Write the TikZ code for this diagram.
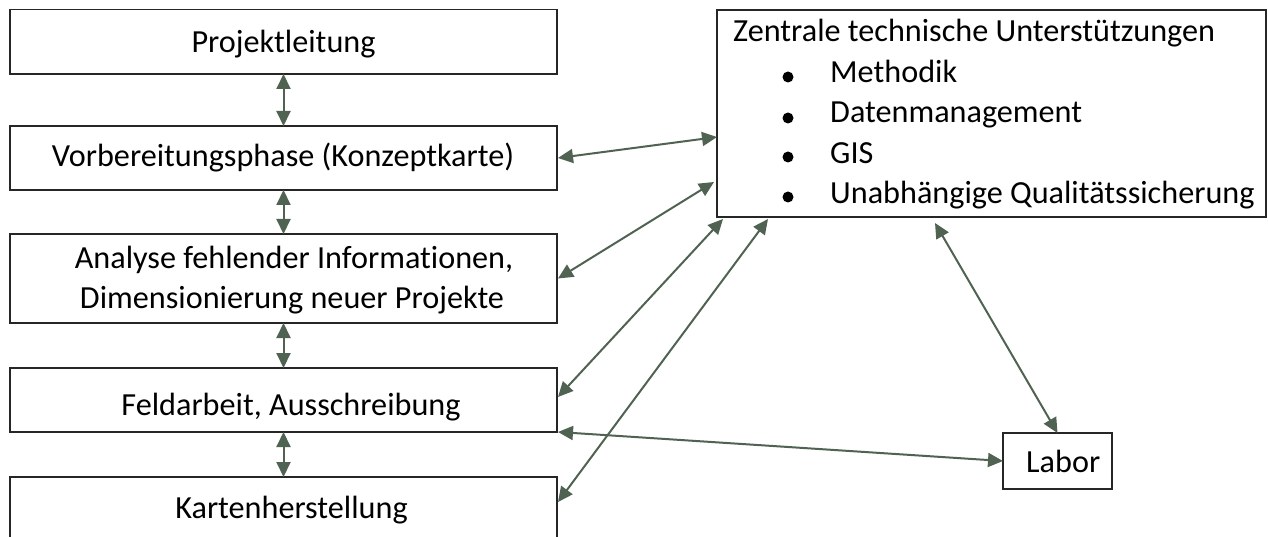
\documentclass[tikz,border=0pt]{standalone}
\usepackage{fontspec}
\setmainfont[Ligatures=NoCommon]{Carlito}
\usetikzlibrary{arrows.meta,calc}
\definecolor{arr}{RGB}{80,99,82}
\begin{document}
\begin{tikzpicture}[x=1pt,y=-1pt,
  box/.style={draw=black!85,line width=1.3pt,inner sep=0pt,outer sep=0pt,anchor=north west},
  lbox/.style={box,minimum width=547pt},
  txt/.style={font=\fontsize{32.2}{38}\selectfont,inner sep=0pt,anchor=base},
  ltxt/.style={txt,anchor=base west},
  con/.style={draw=arr,line width=2pt,{Triangle[length=15pt,width=14pt]}-{Triangle[length=15pt,width=14pt]}},
  bul/.style={fill=black}
]
\clip (0,0) rectangle (1268,537);
\useasboundingbox (0,0) rectangle (1268,537);

% left column boxes
\node[lbox,minimum height=64.5pt] (pl) at (10,9.5) {};
\node[lbox,minimum height=64pt] (vb) at (10,126) {};
\node[lbox,minimum height=89pt] (an) at (10,234) {};
\node[lbox,minimum height=64pt] (fa) at (10,368) {};
\node[lbox,minimum height=80pt] (kh) at (10,477) {};

\node[txt] (plt) at (283.5,53) {Projektleitung};
\node[txt] (vbt) at (283,167) {Vorbereitungsphase (Konzeptkarte)};
\node[txt] (ant1) at (294,269) {Analyse fehlender Informationen,};
\node[txt] (ant2) at (292,308) {Dimensionierung neuer Projekte};
\node[txt] (fat) at (291,415) {Feldarbeit, Ausschreibung};
\node[txt] (kht) at (291.5,518) {Kartenherstellung};

% central support box
\node[box,minimum width=549pt,minimum height=207pt] (zt) at (717,10) {};
\node[ltxt] (ztt) at (733,42) {Zentrale technische Unterstützungen};
\fill[bul] (788,77) circle (5.5);
\fill[bul] (788,118) circle (5.5);
\fill[bul] (788,157) circle (5.5);
\fill[bul] (788,197) circle (5.5);
\node[ltxt] (z1) at (830,83) {Methodik};
\node[ltxt] (z2) at (830,123) {Datenmanagement};
\node[ltxt] (z3) at (830,164) {GIS};
\node[ltxt] (z4) at (830,204) {Unabhängige Qualitätssicherung};

% lab
\node[box,minimum width=109pt,minimum height=56pt] (lb) at (1003,433) {};
\node[ltxt] (lbt) at (1026,472) {Labor};

% vertical connectors
\draw[con] (pl.south) -- (vb.north);
\draw[con] (vb.south) -- (an.north);
\draw[con] (an.south) -- (fa.north);
\draw[con] (fa.south) -- (kh.north);

% connectors to central box
\draw[con] ($(vb.east)+(1,0)$) -- ($(zt.north west)+(0,127)$);
\draw[con] ($(an.east)+(1,0)$) -- ($(zt.north west)+(-3,172)$);
\draw[con] ($(fa.east)+(1,-3)$) -- ($(zt.south west)+(6,2)$);
\draw[con] ($(kh.north east)+(1,25)$) -- ($(zt.south west)+(51,2)$);
\draw[con] ($(zt.south west)+(218,6)$) -- (lb.north);
\draw[con] ($(fa.south east)+(1,0)$) -- (lb.west);
\end{tikzpicture}
\end{document}
